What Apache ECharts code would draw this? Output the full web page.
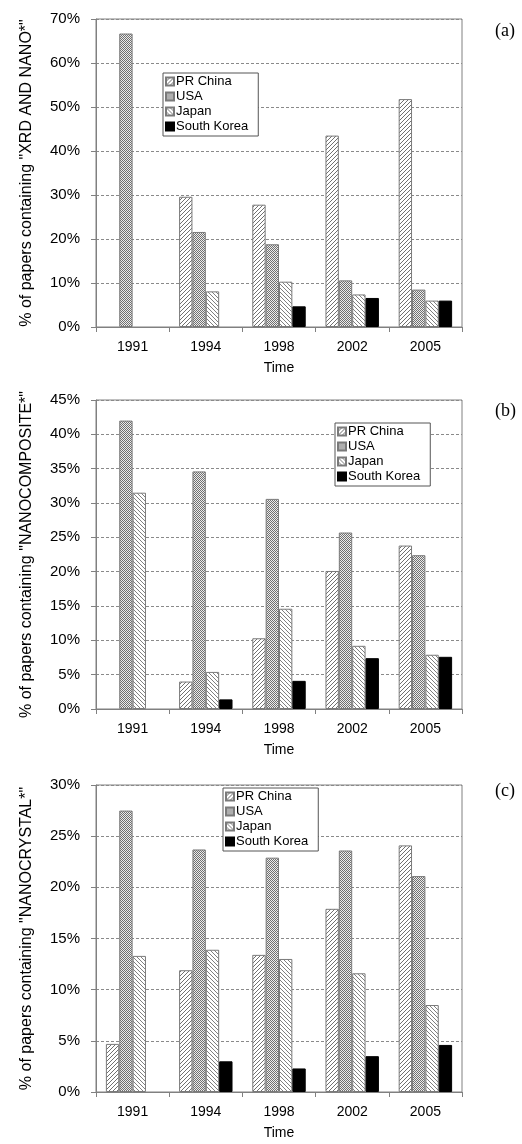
<!DOCTYPE html>
<html>
<head>
<meta charset="utf-8">
<script src="https://cdn.jsdelivr.net/npm/echarts@6/dist/echarts.min.js"></script>
<style>
  html, body { margin: 0; padding: 0; background: #ffffff; }
  #chart { width: 522px; height: 1144px; }
</style>
</head>
<body>
<div id="chart"></div>
<script>
// Publication years on the category axis
const years = ['1991', '1994', '1998', '2002', '2005'];
const countries = ['PR China', 'USA', 'Japan', 'South Korea'];

// (a) share of papers containing "XRD AND NANO*" (%)
const xrdChina = [0, 29.6, 27.8, 43.5, 51.8];
const xrdUSA   = [66.7, 21.6, 18.8, 10.6, 8.5];
const xrdJapan = [0, 8.1, 10.3, 7.4, 6.0];
const xrdKorea = [0, 0, 4.7, 6.6, 6.0];

// (b) share of papers containing "NANOCOMPOSITE*" (%)
const compChina = [0, 4.0, 10.3, 20.1, 23.8];
const compUSA   = [42.0, 34.6, 30.6, 25.7, 22.4];
const compJapan = [31.5, 5.4, 14.6, 9.2, 7.9];
const compKorea = [0, 1.4, 4.1, 7.4, 7.6];

// (c) share of papers containing "NANOCRYSTAL*" (%)
const crysChina = [4.7, 11.9, 13.4, 17.9, 24.1];
const crysUSA   = [27.5, 23.7, 22.9, 23.6, 21.1];
const crysJapan = [13.3, 13.9, 13.0, 11.6, 8.5];
const crysKorea = [0, 3.0, 2.3, 3.5, 4.6];

// Value-axis extents and step for each panel
const axisMax = [70, 45, 30];
const axisStep = [10, 5, 5];
const axisTitles = [
  '% of papers containing "XRD AND NANO*"',
  '% of papers containing "NANOCOMPOSITE*"',
  '% of papers containing "NANOCRYSTAL*"'
];
const panelTags = ['(a)', '(b)', '(c)'];

const panels = [
  [xrdChina, xrdUSA, xrdJapan, xrdKorea],
  [compChina, compUSA, compJapan, compKorea],
  [crysChina, crysUSA, crysJapan, crysKorea]
];

// Small repeating tiles used as hatched bar fills
function makeTile(kind) {
  const c = document.createElement('canvas');
  const ctx = c.getContext('2d');
  if (kind === 'check') {
    c.width = 2; c.height = 2;
    ctx.fillStyle = '#ececec'; ctx.fillRect(0, 0, 2, 2);
    ctx.fillStyle = '#707070';
    ctx.fillRect(0, 0, 1, 1); ctx.fillRect(1, 1, 1, 1);
  } else {
    const n = 4;
    c.width = n; c.height = n;
    ctx.fillStyle = '#ffffff'; ctx.fillRect(0, 0, n, n);
    ctx.fillStyle = kind === 'fwd' ? '#707070' : '#808080';
    for (let i = 0; i < n; i++) {
      const y = kind === 'fwd' ? n - 1 - i : i;
      ctx.fillRect(i, y, 1, 1);
    }
  }
  return { image: c, repeat: 'repeat' };
}

const fills = [makeTile('fwd'), makeTile('check'), makeTile('back'), '#000000'];
const borders = ['#7a7a7a', '#7a7a7a', '#7a7a7a', '#000000'];

const FONT = '"Liberation Sans", Arial, sans-serif';
const grids = [
  { left: 96, right: 60, top: 19, height: 308 },
  { left: 96, right: 60, top: 400, height: 309 },
  { left: 96, right: 60, top: 785, height: 307 }
];
const legendPos = [
  { left: 163, top: 73 },
  { left: 335, top: 423 },
  { left: 223, top: 788 }
];
const tagTop = [22, 402, 782];

const option = {
  animation: false,
  backgroundColor: '#ffffff',
  textStyle: { fontFamily: FONT, color: '#000' },
  grid: grids.map(g => Object.assign({ show: true, borderColor: '#808080', borderWidth: 1, backgroundColor: 'transparent' }, g)),
  xAxis: grids.map((g, i) => ({
    type: 'category',
    gridIndex: i,
    data: years,
    name: 'Time',
    nameLocation: 'middle',
    nameGap: 34,
    nameTextStyle: { fontFamily: FONT, fontSize: 14, color: '#000' },
    axisLine: { lineStyle: { color: '#808080', width: 1 } },
    axisTick: { show: true, length: 5, alignWithLabel: false, lineStyle: { color: '#808080' } },
    axisLabel: { fontFamily: FONT, fontSize: 14, color: '#000', margin: 13 },
    splitLine: { show: false }
  })),
  yAxis: grids.map((g, i) => ({
    type: 'value',
    gridIndex: i,
    min: 0,
    max: axisMax[i],
    interval: axisStep[i],
    name: axisTitles[i],
    nameLocation: 'middle',
    nameRotate: 90,
    nameGap: 61,
    nameTextStyle: { fontFamily: FONT, fontSize: 16, color: '#000' },
    axisLine: { show: true, lineStyle: { color: '#808080', width: 1 } },
    axisTick: { show: true, length: 5, lineStyle: { color: '#808080' } },
    axisLabel: { fontFamily: FONT, fontSize: 15, color: '#000', margin: 16, formatter: '{value}%' },
    splitLine: { show: true, lineStyle: { color: '#8a8a8a', width: 1, type: [3, 2] } }
  })),
  legend: legendPos.map(p => ({
    left: p.left,
    top: p.top,
    orient: 'vertical',
    data: countries,
    icon: 'rect',
    itemWidth: 8,
    itemHeight: 8,
    itemGap: 2,
    padding: [2, 10, 3, 2],
    borderColor: '#555555',
    borderWidth: 1,
    backgroundColor: '#ffffff',
    selectedMode: false,
    textStyle: { fontFamily: FONT, fontSize: 13, color: '#000', padding: [0, 0, 0, -3], lineHeight: 13 }
  })),
  graphic: panelTags.map((t, i) => ({
    type: 'text',
    left: 495,
    top: tagTop[i],
    style: { text: t, font: '18px "Liberation Serif", "Times New Roman", serif', fill: '#000' }
  })),
  series: []
};

panels.forEach((vals, p) => {
  vals.forEach((arr, c) => {
    option.series.push({
      type: 'bar',
      name: countries[c],
      xAxisIndex: p,
      yAxisIndex: p,
      // empty (0 %) bars get no outline so nothing shows on the baseline
      data: arr.map(v => v === 0 ? { value: 0, itemStyle: { borderWidth: 0, opacity: 0 } } : v),
      barGap: '0%',
      barCategoryGap: '27%',
      itemStyle: { color: fills[c], borderColor: borders[c], borderWidth: 1 },
      emphasis: { disabled: true }
    });
  });
});

const chart = echarts.init(document.getElementById('chart'), null, { renderer: 'canvas' });
chart.setOption(option);
</script>
</body>
</html>
